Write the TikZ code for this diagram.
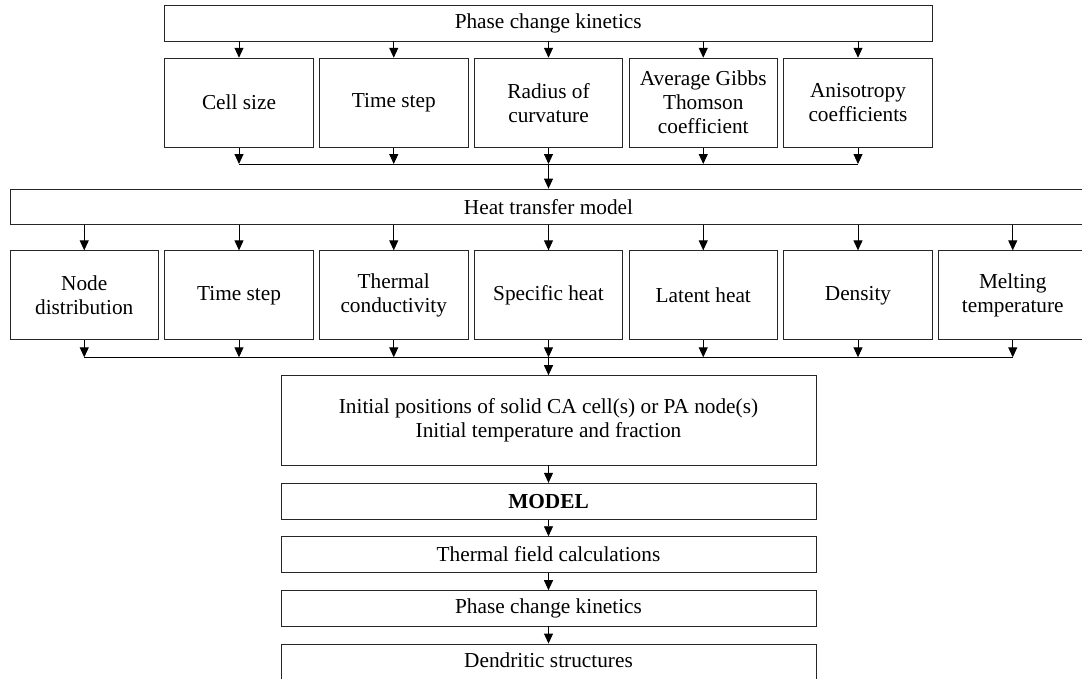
\documentclass[tikz,border=0pt]{standalone}
\usepackage{fontspec}
\setmainfont{Liberation Serif}
\usetikzlibrary{arrows.meta}
\begin{document}
\begin{tikzpicture}[x=1pt,y=-1pt,
  every node/.style={font=\fontsize{21.3}{24}\selectfont},
  box/.style={draw=black!85,line width=0.9pt,fill=white,inner sep=0pt,align=center},
  wide/.style={box,minimum height=36pt},
  cell/.style={box,minimum width=148.5pt,minimum height=89pt},
  arr/.style={draw=black,line width=0.9pt,-{Triangle[length=10pt,width=9pt]}},
  bus/.style={draw=black,line width=0.9pt}]
\useasboundingbox (0,0) rectangle (1082,678);
\clip (0,0) rectangle (1082,678);

% kinetics parameters
\node[wide,minimum width=767.7pt] (pck) at (548.2,23) {Phase change kinetics};
\node[cell] (k1) at (239,102.7) {Cell size};
\node[cell] (k2) at (393.75,102.7) {Time step};
\node[cell] (k3) at (548.5,102.7) {Radius of\\curvature};
\node[cell] (k4) at (703.25,102.7) {Average Gibbs\\Thomson\\coefficient};
\node[cell] (k5) at (858,102.7) {Anisotropy\\coefficients};
\coordinate (j1) at (548.5,164);

% heat transfer parameters
\node[wide,minimum width=1077pt,minimum height=35.3pt] (htm) at (548.5,206.7) {Heat transfer model};
\node[cell] (h1) at (84.25,295.3) {Node\\distribution};
\node[cell] (h2) at (239,295.3) {Time step};
\node[cell] (h3) at (393.75,295.3) {Thermal\\conductivity};
\node[cell] (h4) at (548.5,295.3) {Specific heat};
\node[cell] (h5) at (703.25,295.3) {Latent heat};
\node[cell] (h6) at (858,295.3) {Density};
\node[cell] (h7) at (1012.75,295.3) {Melting\\temperature};
\coordinate (j2) at (548.5,357.3);

% model chain
\node[box,minimum width=535pt,minimum height=89.3pt] (init) at (548.5,420.3)
  {Initial positions of solid CA cell(s) or PA node(s)\\Initial temperature and fraction};
\node[wide,minimum width=535pt] (model) at (548.5,501.3) {\textbf{MODEL}};
\node[wide,minimum width=535pt,minimum height=35.6pt] (tfc) at (548.5,554.5) {Thermal field calculations};
\node[wide,minimum width=535pt,minimum height=35.3pt] (pck2) at (548.5,608.3) {Phase change kinetics};
\node[box,minimum width=535pt,minimum height=40pt,text depth=0pt] (den) at (548.5,664) {\raisebox{8pt}{Dendritic structures}};

% kinetics connectors
\foreach \n in {k1,k2,k3,k4,k5}{
  \draw[arr] (\n.north |- pck.south) -- (\n.north);
  \draw[arr] (\n.south) -- (\n.south |- j1);
}
\draw[bus] (k1.south |- j1) -- (k5.south |- j1);
\draw[arr] (j1) -- (htm.north);

% heat transfer connectors
\foreach \n in {h1,h2,h3,h4,h5,h6,h7}{
  \draw[arr] (\n.north |- htm.south) -- (\n.north);
  \draw[arr] (\n.south) -- (\n.south |- j2);
}
\draw[bus] (h1.south |- j2) -- (h7.south |- j2);
\draw[arr] (j2) -- (init.north);

% chain connectors
\draw[arr] (init.south) -- (model.north);
\draw[arr] (model.south) -- (tfc.north);
\draw[arr] (tfc.south) -- (pck2.north);
\draw[arr] (pck2.south) -- (den.north);
\end{tikzpicture}
\end{document}
